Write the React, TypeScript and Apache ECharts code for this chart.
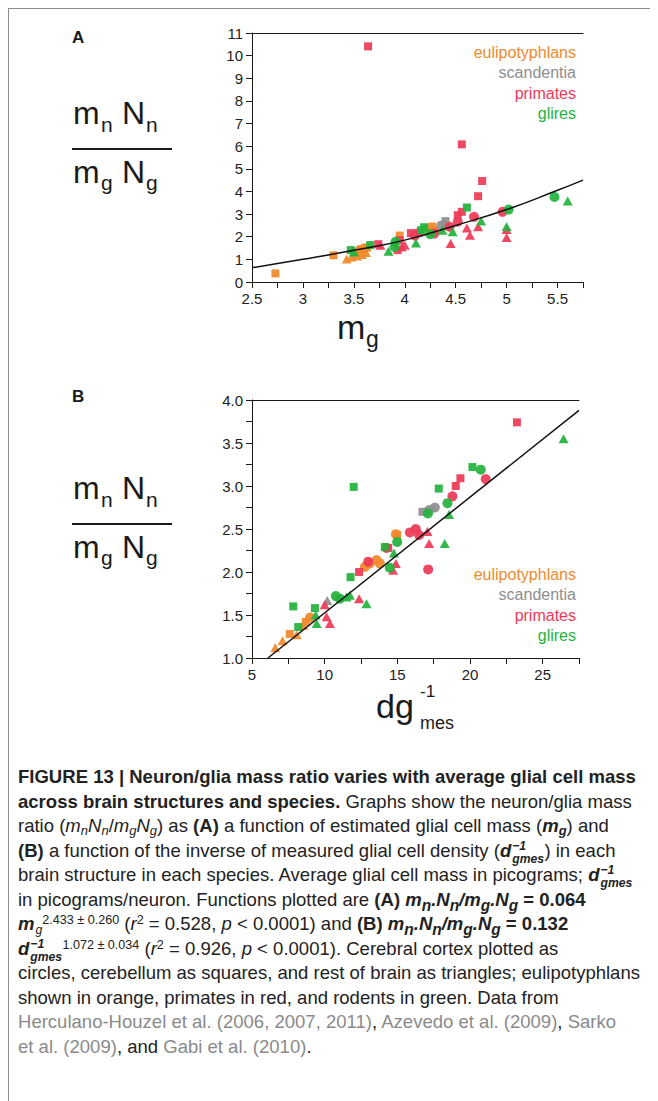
import React, { useEffect, useLayoutEffect, useRef, useState } from 'react';
import * as echarts from 'echarts';

// ---------- data ----------
const groupNames = ['eulipotyphlans', 'scandentia', 'primates', 'glires'];
const groupColors = ['#F08A2C', '#8E8E8E', '#EE3A57', '#23B33E'];

// Panel A: x = m_g, y = mnNn / mgNg
const aEulCircles = [[3.55, 1.38], [3.6, 1.48], [4.28, 2.3]];
const aEulSquares = [[2.73, 0.38], [3.3, 1.18], [3.52, 1.32], [3.57, 1.45], [3.63, 1.52], [3.95, 2.05], [4.22, 2.35], [4.27, 2.45]];
const aEulTriangles = [[3.43, 1.02], [3.48, 1.1], [3.53, 1.15], [3.58, 1.22], [3.62, 1.3]];
const aScaCircles = [[4.36, 2.5]];
const aScaSquares = [[4.4, 2.69]];
const aScaTriangles = [];
const aPriCircles = [[4.68, 2.88], [4.52, 2.66], [4.44, 2.44], [4.96, 3.1], [4.29, 2.14], [4.1, 2.05]];
const aPriSquares = [[3.64, 10.41], [4.56, 6.08], [4.76, 4.46], [4.72, 3.79], [4.52, 2.95], [4.56, 3.1], [4.06, 2.16], [4.14, 2.18], [3.95, 1.85], [3.93, 1.41], [3.74, 1.67]];
const aPriTriangles = [[4.72, 2.44], [4.61, 2.39], [4.64, 2.07], [4.45, 1.7], [5.0, 2.32], [5.0, 1.97], [3.76, 1.62], [3.97, 1.55], [4.0, 1.62]];
const aGliCircles = [[3.91, 1.78], [4.25, 2.11], [5.02, 3.2], [5.47, 3.76], [3.9, 1.55]];
const aGliSquares = [[3.47, 1.41], [3.66, 1.63], [4.19, 2.42], [4.61, 3.29], [4.16, 2.29]];
const aGliTriangles = [[3.84, 1.36], [4.11, 1.72], [4.75, 2.69], [4.47, 2.22], [4.37, 2.29], [5.6, 3.58], [5.0, 2.45], [3.5, 1.33]];
const aFit = [[2.5, 0.63], [3, 1.0], [3.5, 1.4], [4, 1.85], [4.5, 2.5], [5, 3.2], [5.5, 4.05], [5.75, 4.5]];

// Panel B: x = dg^-1 mes, y = mnNn / mgNg
const bEulCircles = [[12.77, 2.06], [13.11, 2.1], [13.57, 2.14], [8.99, 1.47], [14.9, 2.44], [13.8, 2.1]];
const bEulSquares = [[14.99, 2.43], [8.7, 1.42], [7.6, 1.28]];
const bEulTriangles = [[6.6, 1.12], [7.1, 1.2], [8.07, 1.27], [8.53, 1.38]];
const bScaCircles = [[17.58, 2.75], [17.19, 2.72]];
const bScaSquares = [[16.73, 2.7]];
const bScaTriangles = [[10.18, 1.67]];
const bPriCircles = [[21.08, 3.08], [18.79, 2.88], [15.86, 2.46], [16.27, 2.5], [16.5, 2.43], [14.25, 2.28], [17.12, 2.03], [13.0, 2.12]];
const bPriSquares = [[23.23, 3.74], [19.34, 3.09], [19.02, 3.0], [12.37, 2.0], [14.37, 2.28]];
const bPriTriangles = [[17.07, 2.47], [17.19, 2.33], [14.9, 2.1], [14.71, 2.02], [10.0, 1.62], [10.13, 1.48], [10.36, 1.4], [12.37, 1.69]];
const bGliCircles = [[20.74, 3.19], [18.45, 2.8], [14.99, 2.35], [14.48, 2.05], [10.77, 1.72], [11.05, 1.69], [17.1, 2.68]];
const bGliSquares = [[12.0, 2.99], [7.84, 1.6], [11.78, 1.94], [9.33, 1.58], [8.18, 1.36], [20.17, 3.22], [17.85, 2.97], [14.14, 2.29]];
const bGliTriangles = [[26.44, 3.55], [18.56, 2.67], [18.26, 2.33], [14.76, 2.22], [12.88, 1.63], [11.5, 1.71], [11.74, 1.73], [9.45, 1.4], [9.38, 1.5]];
const bFit = [[6.1, 1.0], [27.5, 3.88]];

// axis ranges / ticks
const aX = { min: 2.5, max: 5.75, step: 0.25, labelStep: 0.5 };
const aY = { min: 0, max: 11, step: 1 };
const bX = { min: 5, max: 27.5, step: 2.5, labelStep: 5 };
const bY = { min: 1, max: 4, step: 0.25, labelStep: 0.5 };

const FONT = '"Liberation Sans", Arial, Helvetica, sans-serif';
const CAP_FONT = '"Liberation Sans", Arial, Helvetica, sans-serif';

const OX = 9; // chart origin in page coordinates
const OY = 9;

const isMult = (v: number, s: number) => Math.abs(v / s - Math.round(v / s)) < 1e-6;

function pointSeries(panel: any[][][], xi: number, yi: number) {
  const shapes = ['circle', 'rect', 'triangle'];
  const sizes: any[] = [10, 8, [10, 9]];
  const out: any[] = [];
  panel.forEach((grp, gi) => {
    grp.forEach((pts, si) => {
      out.push({
        type: 'scatter',
        name: groupNames[gi],
        xAxisIndex: xi,
        yAxisIndex: yi,
        symbol: shapes[si],
        symbolSize: sizes[si],
        itemStyle: { color: groupColors[gi], opacity: 0.93 },
        data: pts,
        z: 2,
      });
    });
  });
  return out;
}

function txt(pageX: number, baseline: number, text: string, size: number, opts: any = {}) {
  return {
    type: 'text',
    x: pageX - OX,
    y: baseline - OY - 0.31 * size,
    style: {
      text,
      fill: opts.fill || '#1a1a1a',
      font: `${opts.weight || 'normal'} ${size}px ${FONT}`,
      align: opts.align || 'left',
      verticalAlign: 'middle',
    },
    z: 10,
  };
}

function fraction(dy: number) {
  return [
    txt(73, 123 + dy, 'm', 32),
    txt(101, 131 + dy, 'n', 21),
    txt(122, 123 + dy, 'N', 32),
    txt(146, 131 + dy, 'n', 21),
    {
      type: 'line',
      shape: { x1: 72 - OX, y1: 149 + dy - OY, x2: 172 - OX, y2: 149 + dy - OY },
      style: { stroke: '#1a1a1a', lineWidth: 2 },
    },
    txt(73, 182 + dy, 'm', 32),
    txt(101, 189 + dy, 'g', 21),
    txt(122, 182 + dy, 'N', 32),
    txt(146, 189 + dy, 'g', 21),
  ];
}

function legend(rightX: number, firstY: number) {
  return groupNames.map((n, i) => txt(rightX, firstY + i * 20.5, n, 16, { align: 'right', fill: groupColors[i] }));
}

function Chart() {
  const ref = useRef<HTMLDivElement>(null);
  useEffect(() => {
    const chart = echarts.init(ref.current!, null, { renderer: 'svg' });
    const axisCommon = {
      axisLine: { show: true, lineStyle: { color: '#1a1a1a', width: 1 } },
      axisTick: { show: true, inside: false, length: 6, lineStyle: { color: '#1a1a1a' } },
      splitLine: { show: false },
      axisLabel: { color: '#222', fontSize: 15, fontFamily: FONT, margin: 9 },
    };
    const topLine = (gi: number) => ({
      type: 'value', gridIndex: gi, position: 'top',
      axisLine: { show: true, onZero: false, lineStyle: { color: '#1a1a1a', width: 1 } },
      axisTick: { show: false }, axisLabel: { show: false }, splitLine: { show: false },
    });
    const panelA = [
      [aEulCircles, aEulSquares, aEulTriangles],
      [aScaCircles, aScaSquares, aScaTriangles],
      [aPriCircles, aPriSquares, aPriTriangles],
      [aGliCircles, aGliSquares, aGliTriangles],
    ];
    const panelB = [
      [bEulCircles, bEulSquares, bEulTriangles],
      [bScaCircles, bScaSquares, bScaTriangles],
      [bPriCircles, bPriSquares, bPriTriangles],
      [bGliCircles, bGliSquares, bGliTriangles],
    ];
    chart.setOption({
      animation: false,
      backgroundColor: '#fff',
      grid: [
        { left: 252 - OX, top: 33 - OY, width: 331, height: 249 },
        { left: 252 - OX, top: 400 - OY, width: 327, height: 258 },
      ],
      xAxis: [
        {
          ...axisCommon, type: 'value', gridIndex: 0, min: aX.min, max: aX.max, interval: aX.step,
          axisLine: { ...axisCommon.axisLine, onZero: false },
          axisLabel: { ...axisCommon.axisLabel, formatter: (v: number) => (isMult(v, aX.labelStep) ? String(+v.toFixed(2)) : '') },
        },
        { ...topLine(0), min: aX.min, max: aX.max },
        {
          ...axisCommon, type: 'value', gridIndex: 1, min: bX.min, max: bX.max, interval: bX.step,
          axisLine: { ...axisCommon.axisLine, onZero: false },
          axisLabel: { ...axisCommon.axisLabel, formatter: (v: number) => (isMult(v, bX.labelStep) ? String(v) : '') },
        },
        { ...topLine(1), min: bX.min, max: bX.max },
      ],
      yAxis: [
        {
          ...axisCommon, type: 'value', gridIndex: 0, min: aY.min, max: aY.max, interval: aY.step,
          axisLine: { ...axisCommon.axisLine, onZero: false },
        },
        {
          ...axisCommon, type: 'value', gridIndex: 1, min: bY.min, max: bY.max, interval: bY.step,
          axisLine: { ...axisCommon.axisLine, onZero: false },
          axisLabel: { ...axisCommon.axisLabel, formatter: (v: number) => (isMult(v, bY.labelStep) ? v.toFixed(1) : '') },
        },
      ],
      series: [
        ...pointSeries(panelA, 0, 0),
        ...pointSeries(panelB, 2, 1),
        {
          type: 'line', xAxisIndex: 0, yAxisIndex: 0, data: aFit, smooth: true, showSymbol: false,
          lineStyle: { color: '#111', width: 1.5 }, z: 5, silent: true,
        },
        {
          type: 'line', xAxisIndex: 2, yAxisIndex: 1, data: bFit, showSymbol: false,
          lineStyle: { color: '#111', width: 1.5 }, z: 5, silent: true,
        },
      ],
      graphic: [
        txt(72, 43, 'A', 17, { weight: 'bold' }),
        txt(72, 402, 'B', 17, { weight: 'bold' }),
        ...fraction(0),
        ...fraction(375),
        ...legend(576, 57),
        ...legend(576, 579),
        txt(337, 338, 'm', 34),
        txt(366, 346, 'g', 23),
        txt(376, 717, 'dg', 34),
        txt(420, 697, '-1', 17),
        txt(420, 729, 'mes', 18),
      ],
    });
    return () => chart.dispose();
  }, []);
  return <div ref={ref} style={{ position: 'absolute', left: 0, top: 0, width: 641, height: 745 }} />;
}

const gray = { color: '#8a8a8a' };

// a zero-height inline box sitting on the baseline, holding a stacked superscript / subscript
function Stack({ sup, sub, width, subTop = -3 }: { sup?: string; sub?: string; width: number; subTop?: number }) {
  return (
    <span style={{ display: 'inline-block', position: 'relative', width, height: 0, verticalAlign: 'baseline' }}>
      {sup ? <span style={{ position: 'absolute', left: 1, top: -16, fontSize: 12.5, lineHeight: '11px', whiteSpace: 'nowrap' }}>{sup}</span> : null}
      {sub ? <span style={{ position: 'absolute', left: 1, top: subTop, fontSize: 12.5, lineHeight: '11px', whiteSpace: 'nowrap' }}>{sub}</span> : null}
    </span>
  );
}

function Dinv() {
  return (
    <b><i>d<Stack sup="−1" sub="gmes" width={34} /></i></b>
  );
}

function Ratio() {
  return (
    <b><i>m<sub>n</sub>.N<sub>n</sub>/m<sub>g</sub>.N<sub>g</sub></i></b>
  );
}

const subS = { fontSize: '0.7em', lineHeight: 0, verticalAlign: '-0.25em' } as any;
const supS = { fontSize: '0.68em', lineHeight: 0, verticalAlign: '0.5em' } as any;

function Caption() {
  const measureRef = useRef<HTMLSpanElement>(null);
  const [scale, setScale] = useState(1);
  useLayoutEffect(() => {
    if (measureRef.current) {
      const w = measureRef.current.getBoundingClientRect().width;
      if (w > 0) setScale(622 / w);
    }
  }, []);
  const lines: any[] = [
    <b>FIGURE 13 | Neuron/glia mass ratio varies with average glial cell mass</b>,
    <><b>across brain structures and species.</b> Graphs show the neuron/glia mass</>,
    <>ratio (<i>m<sub style={subS}>n</sub>N<sub style={subS}>n</sub></i>/<i>m<sub style={subS}>g</sub>N<sub style={subS}>g</sub></i>) as <b>(A)</b> a function of estimated glial cell mass (<b><i>m<sub style={subS}>g</sub></i></b>) and</>,
    <><b>(B)</b> a function of the inverse of measured glial cell density (<Dinv />) in each</>,
    <>brain structure in each species. Average glial cell mass in picograms; <Dinv /></>,
    <>in picograms/neuron. Functions plotted are <b>(A)</b> <Ratio /> <b>= 0.064</b></>,
    <><b><i>m</i></b><i><Stack sub="g" width={8} subTop={-5} /></i><sup style={supS}>2.433 ± 0.260</sup> (<i>r</i><sup style={supS}>2</sup> = 0.528, <i>p</i> &lt; 0.0001) and <b>(B)</b> <Ratio /> <b>= 0.132</b></>,
    <><Dinv /><sup style={supS}>1.072 ± 0.034</sup> (<i>r</i><sup style={supS}>2</sup> = 0.926, <i>p</i> &lt; 0.0001). Cerebral cortex plotted as</>,
    <span ref={measureRef}>circles, cerebellum as squares, and rest of brain as triangles; eulipotyphlans</span>,
    <>shown in orange, primates in red, and rodents in green. Data from</>,
    <><span style={gray}>Herculano-Houzel et al. (2006, 2007, 2011)</span>, <span style={gray}>Azevedo et al. (2009)</span>, <span style={gray}>Sarko</span></>,
    <><span style={gray}>et al. (2009)</span>, and <span style={gray}>Gabi et al. (2010)</span>.</>,
  ];
  return (
    <div style={{ position: 'absolute', left: 9, top: 756, fontFamily: CAP_FONT, fontSize: 19, color: '#222', transform: `scaleX(${scale})`, transformOrigin: '0 0' }}>
      {lines.map((l, i) => (
        <div key={i} style={{ height: 24.5, lineHeight: '24.5px', whiteSpace: 'nowrap' }}>{l}</div>
      ))}
    </div>
  );
}

export default function App() {
  return (
    <div style={{ position: 'relative', width: 700, height: 1093, borderLeft: '1px solid #8c8c8c', borderTop: '1px solid #8c8c8c', background: '#fff', overflow: 'hidden' }}>
      <Chart />
      <Caption />
    </div>
  );
}
